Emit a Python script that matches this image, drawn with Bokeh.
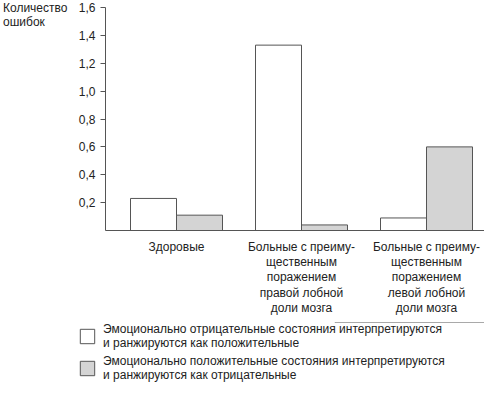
from bokeh.plotting import figure
from bokeh.layouts import column, row
from bokeh.models import (ColumnDataSource, Range1d, FixedTicker, Legend, LegendItem, Div)
from bokeh.embed import file_html
from bokeh.resources import INLINE

categories = [
    "Здоровые",
    "Больные с преиму-\nщественным\nпоражением\nправой лобной\nдоли мозга",
    "Больные с преиму-\nщественным\nпоражением\nлевой лобной\nдоли мозга",
]
neg_as_pos = [0.23, 1.33, 0.09]
pos_as_neg = [0.11, 0.04, 0.60]
y_ticks = [0.2, 0.4, 0.6, 0.8, 1.0, 1.2, 1.4, 1.6]
series_labels = [
    "Эмоционально отрицательные состояния интерпретируются\nи ранжируются как положительные",
    "Эмоционально положительные состояния интерпретируются\nи ранжируются как отрицательные",
]
y_title_lines = ["Количество", "ошибок"]

FONT = "Liberation Sans"
TXT = "#222222"
LINE = "#555555"
GRAY = "#d4d4d4"

W = 484
TW = 70          # width of the caption strip
MAIN_H = 318
LEG_H = 383 - MAIN_H

pos = list(range(1, len(categories) + 1))
bw = 0.368
src = ColumnDataSource(dict(
    x1=[p_ - bw / 2 for p_ in pos],
    x2=[p_ + bw / 2 for p_ in pos],
    a=neg_as_pos,
    b=pos_as_neg,
))

# ---- caption (y-axis caption) ----
caption = Div(text="<br>".join(y_title_lines), width=TW, height=32, margin=0,
              styles={"font-family": FONT, "font-size": "12px", "line-height": "14px",
                      "color": TXT, "padding-left": "3px", "padding-top": "1px",
                      "white-space": "nowrap"})

# ---- main chart ----
p = figure(width=W - TW, height=MAIN_H, output_backend="svg", toolbar_location=None,
           x_range=Range1d(0.432, 3.464), y_range=Range1d(0, 1.6),
           min_border_left=105 - TW, min_border_right=0, min_border_top=7,
           min_border_bottom=MAIN_H - 232)
p.outline_line_color = None
p.xgrid.grid_line_color = None
p.ygrid.grid_line_color = None

p.vbar(x="x1", top="a", width=bw, source=src, fill_color="white",
       line_color=LINE, line_width=1)
p.vbar(x="x2", top="b", width=bw, source=src, fill_color=GRAY,
       line_color=LINE, line_width=1)

yax = p.yaxis[0]
yax.ticker = FixedTicker(ticks=y_ticks)
yax.major_label_overrides = {t: f"{t:.1f}".replace(".", ",") for t in y_ticks}
yax.minor_tick_line_color = None
yax.major_tick_out = 5
yax.major_tick_in = 0
yax.major_label_standoff = 5
yax.axis_line_color = LINE
yax.major_tick_line_color = LINE
yax.major_label_text_font = FONT
yax.major_label_text_font_size = "12px"
yax.major_label_text_color = TXT

xax = p.xaxis[0]
xax.ticker = FixedTicker(ticks=pos)
xax.major_label_overrides = {p_: c for p_, c in zip(pos, categories)}
xax.minor_tick_line_color = None
xax.major_tick_line_color = None
xax.major_tick_out = 0
xax.major_tick_in = 0
xax.major_label_standoff = 9
xax.axis_line_color = LINE
xax.major_label_text_font = FONT
xax.major_label_text_font_size = "12px"
xax.major_label_text_color = TXT
xax.major_label_text_line_height = 1.1

# ---- legend strip ----
lfig = figure(width=W, height=LEG_H, output_backend="svg", toolbar_location=None,
              x_range=Range1d(0, 1), y_range=Range1d(-3, -2),
              x_axis_location=None, y_axis_location=None,
              min_border_left=78, min_border_right=0, min_border_top=4, min_border_bottom=0)
lfig.outline_line_color = None
lfig.xgrid.visible = False
lfig.ygrid.visible = False
# proxies sharing the chart's data; they lie outside this strip's ranges
l1 = lfig.vbar(x="x1", top="a", width=bw, source=src, fill_color="white",
               line_color=LINE, line_width=1)
l2 = lfig.vbar(x="x2", top="b", width=bw, source=src, fill_color=GRAY,
               line_color=LINE, line_width=1)
legend = Legend(items=[LegendItem(label=series_labels[0], renderers=[l1]),
                       LegendItem(label=series_labels[1], renderers=[l2])],
                location="top_left")
legend.border_line_color = None
legend.background_fill_alpha = 0
legend.glyph_width = 18
legend.glyph_height = 18
legend.label_text_font = FONT
legend.label_text_font_size = "12px"
legend.label_text_color = TXT
legend.label_text_line_height = 0.97
legend.label_standoff = 7
legend.spacing = 4
legend.padding = 0
legend.margin = 0
lfig.add_layout(legend, "center")

layout = column(row(caption, p), lfig)
open("out.html", "w").write(file_html(layout, INLINE))
